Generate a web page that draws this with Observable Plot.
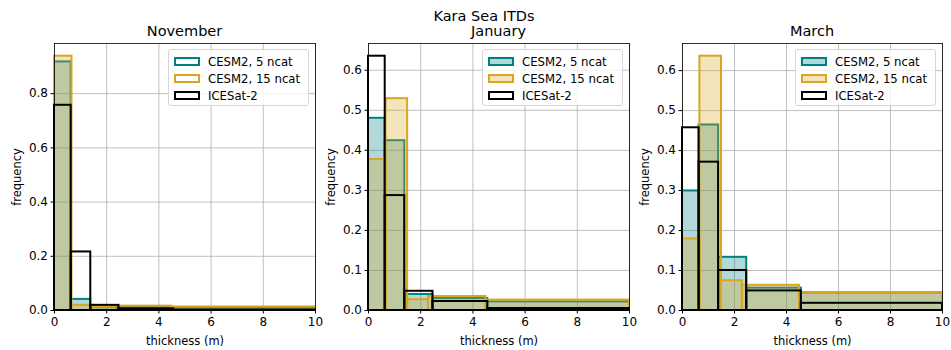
<!DOCTYPE html>
<html><head><meta charset="utf-8">
<script src="https://cdn.jsdelivr.net/npm/d3@7"></script>
<script src="https://cdn.jsdelivr.net/npm/@observablehq/plot@0.6"></script>
<style>
body{margin:0;background:#fff;font-family:"DejaVu Sans",sans-serif;}
#fig{position:relative;width:951px;height:350px;overflow:hidden;background:#fff;}
.panel{position:absolute;top:0;}
.legend{position:absolute;box-sizing:border-box;width:141px;height:57px;border:1px solid #d6d6d6;border-radius:3px;background:rgba(255,255,255,0.8);font-size:11.7px;color:#000;padding-top:3px;white-space:nowrap;}
.row{display:flex;align-items:center;height:17px;padding-left:5px;}
.patch{box-sizing:border-box;width:26px;height:9px;border:2px solid;margin-right:8px;flex:none;}
#overlay{position:absolute;left:0;top:0;pointer-events:none;}
</style>
</head><body>
<div id="fig"></div>
<script>
// ---- data ----
const suptitle = "Kara Sea ITDs";
const months = ["November", "January", "March"];
const seriesNames = ["CESM2, 5 ncat", "CESM2, 15 ncat", "ICESat-2"];
const seriesColors = ["#008080", "#daa520", "#000000"];
const edges5 = [0, 0.64, 1.39, 2.47, 4.57, 10];    // CESM2 5 ncat and ICESat-2 bins
const edges15 = [0, 0.67, 1.5, 2.3, 4.5, 10];      // CESM2 15 ncat (regrouped) bins

const novCesm5  = [0.917, 0.041, 0.010, 0.011, 0.010];
const novCesm15 = [0.938, 0.019, 0.012, 0.016, 0.013];
const novIce    = [0.757, 0.216, 0.019, 0.006, 0.002];

const janCesm5  = [0.480, 0.424, 0.040, 0.030, 0.0215];
const janCesm15 = [0.377, 0.529, 0.027, 0.035, 0.026];
const janIce    = [0.635, 0.287, 0.048, 0.0225, 0.005];

const marCesm5  = [0.299, 0.464, 0.133, 0.056, 0.044];
const marCesm15 = [0.179, 0.636, 0.0745, 0.063, 0.045];
const marIce    = [0.457, 0.371, 0.100, 0.049, 0.018];

const xTicks = [0, 2, 4, 6, 8, 10];
const yTicksNov = [0, 0.2, 0.4, 0.6, 0.8];
const yTicksJanMar = [0, 0.1, 0.2, 0.3, 0.4, 0.5, 0.6];
const xLabel = "thickness (m)";
const yLabel = "frequency";

// ---- build ----
const panelData = [
  [novCesm5, novCesm15, novIce],
  [janCesm5, janCesm15, janIce],
  [marCesm5, marCesm15, marIce]
];
const panelYTicks = [yTicksNov, yTicksJanMar, yTicksJanMar];
const legendFilled = [false, true, true];
const seriesEdges = [edges5, edges15, edges5];

const panelLeft = [0, 314, 627];
const panelMarginLeft = [54, 54, 55];
const PW = 320, PH = 350, MT = 43, MB = 40, MR = 5;

function rects(vals, edges) {
  return vals.map((v, i) => ({x1: edges[i], x2: edges[i + 1], y: v}));
}

const fig = document.getElementById("fig");

months.forEach((m, p) => {
  const series = panelData[p];
  const ymax = d3.max(series.flat()) * 1.05;
  const marks = [
    Plot.gridX(xTicks, {stroke: "#b0b0b0", strokeOpacity: 1, strokeWidth: 0.8}),
    Plot.gridY(panelYTicks[p], {stroke: "#b0b0b0", strokeOpacity: 1, strokeWidth: 0.8})
  ];
  series.forEach((vals, s) => {
    const c = seriesColors[s];
    marks.push(Plot.rect(rects(vals, seriesEdges[s]), {
      x1: "x1", x2: "x2", y1: 0, y2: "y",
      fill: s === 2 ? "none" : c, fillOpacity: 0.3,
      stroke: c, strokeWidth: 2
    }));
  });
  marks.push(Plot.frame({stroke: "#000", strokeWidth: 0.8}));
  marks.push(Plot.axisX(xTicks, {tickSize: 3.5, tickPadding: 3, fontSize: 12, label: null}));
  marks.push(Plot.axisY(panelYTicks[p], {tickSize: 3.5, tickPadding: 3, fontSize: 12, tickFormat: d3.format(".1f"), label: null}));
  marks.push(Plot.axisX({ticks: [], tickSize: 0, label: xLabel, labelAnchor: "center", labelArrow: "none", labelOffset: 34, fontSize: 11.5}));
  marks.push(Plot.axisY({ticks: [], tickSize: 0, label: yLabel, labelAnchor: "center", labelArrow: "none", labelOffset: 42, fontSize: 11.5}));
  const chart = Plot.plot({
    width: PW, height: PH,
    marginLeft: panelMarginLeft[p], marginRight: MR, marginTop: MT, marginBottom: MB,
    x: {domain: [0, 10]},
    y: {domain: [0, ymax]},
    style: {fontFamily: "DejaVu Sans, sans-serif", fontSize: "12px", color: "#000", background: "transparent", overflow: "visible"},
    marks
  });
  const wrap = document.createElement("div");
  wrap.className = "panel";
  wrap.style.left = panelLeft[p] + "px";
  wrap.appendChild(chart);
  fig.appendChild(wrap);

  // legend (upper right)
  const frameRight = panelLeft[p] + PW - MR;
  const lg = document.createElement("div");
  lg.className = "legend";
  lg.style.left = (frameRight - 6 - 141) + "px";
  lg.style.top = (MT + 6) + "px";
  seriesNames.forEach((n, s) => {
    const row = document.createElement("div");
    row.className = "row";
    const patch = document.createElement("div");
    patch.className = "patch";
    patch.style.borderColor = seriesColors[s];
    if (legendFilled[p] && s < 2) {
      const c = d3.color(seriesColors[s]); c.opacity = 0.3;
      patch.style.background = c.formatRgb();
    }
    const t = document.createElement("span");
    t.textContent = n;
    row.appendChild(patch); row.appendChild(t);
    lg.appendChild(row);
  });
  fig.appendChild(lg);
});

// titles
const svg = d3.select(fig).append("svg").attr("id", "overlay").attr("width", 951).attr("height", 45);
svg.append("text").attr("x", 484).attr("y", 21).attr("text-anchor", "middle")
  .attr("font-family", "DejaVu Sans, sans-serif").attr("font-size", 14.5).text(suptitle);
months.forEach((m, p) => {
  const cx = panelLeft[p] + (panelMarginLeft[p] + PW - MR) / 2;
  svg.append("text").attr("x", cx).attr("y", 36).attr("text-anchor", "middle")
    .attr("font-family", "DejaVu Sans, sans-serif").attr("font-size", 14.5).text(m);
});
</script>
</body></html>
